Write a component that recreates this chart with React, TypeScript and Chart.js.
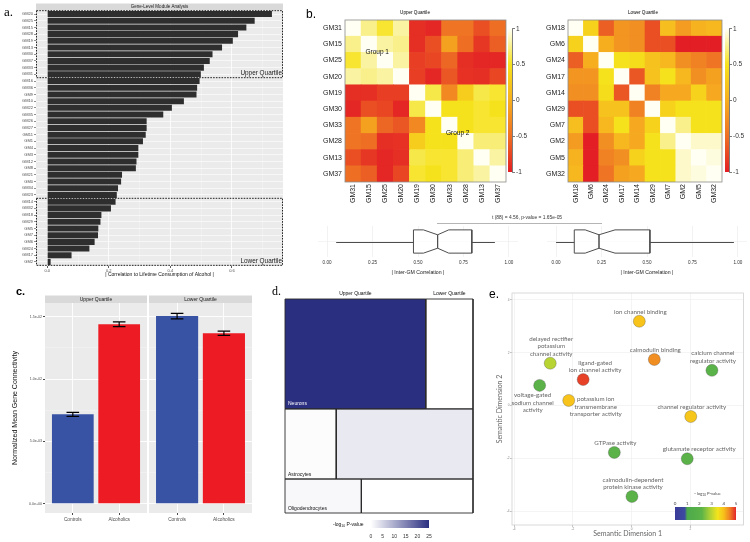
import React, { useEffect, useRef } from 'react';
import { Chart, registerables } from 'chart.js';

Chart.register(...registerables);

const SANS = "'Liberation Sans', Arial, Helvetica, sans-serif";
const SERIF = "'Liberation Serif', 'Times New Roman', serif";
const GILL = "Lato, 'Open Sans', sans-serif";
Chart.defaults.font.family = SANS;

// ---------------- a. Gene-level module analysis ----------------
const moduleLabels = [
  'GM20', 'GM25', 'GM15', 'GM28', 'GM19', 'GM13', 'GM30', 'GM37', 'GM33', 'GM31',
  'GM16', 'GM36', 'GM9', 'GM10', 'GM22', 'GM35', 'GM26', 'GM27', 'GM11', 'GM1',
  'GM4', 'GM3', 'GM12', 'GM8', 'GM21', 'GM0', 'GM34', 'GM23',
  'GM14', 'GM32', 'GM18', 'GM29', 'GM5', 'GM7', 'GM6', 'GM24', 'GM17', 'GM2',
];
const moduleCorr = [
  0.73, 0.674, 0.647, 0.62, 0.603, 0.568, 0.537, 0.528, 0.509, 0.499,
  0.495, 0.487, 0.485, 0.444, 0.405, 0.377, 0.323, 0.323, 0.32, 0.311,
  0.296, 0.296, 0.29, 0.288, 0.243, 0.24, 0.23, 0.226,
  0.222, 0.207, 0.176, 0.173, 0.166, 0.165, 0.154, 0.137, 0.079, 0.011,
];
const corrTicks = [0, 0.2, 0.4, 0.6];
const corrTickLabels = ['0.0', '0.2', '0.4', '0.6'];
const corrMinorTicks = [0.1, 0.3, 0.5, 0.7];
const upperQuartileSize = 10;
const lowerQuartileSize = 10;

// ---------------- b. Inter-module correlation heatmaps ----------------
const upperModules = ['GM31', 'GM15', 'GM25', 'GM20', 'GM19', 'GM30', 'GM33', 'GM28', 'GM13', 'GM37'];
const upperCorr = [
  [1, 0.75, 0.55, 0.8, -0.9, -0.95, -0.45, -0.45, -0.7, -0.5],
  [0.75, 1, 0.8, 0.75, -0.9, -0.7, -0.1, -0.5, -0.85, -0.6],
  [0.55, 0.8, 1, 0.8, -0.8, -0.75, -0.55, -0.9, -0.95, -0.95],
  [0.8, 0.75, 0.8, 1, -0.8, -0.95, -0.65, -0.88, -0.9, -0.75],
  [-0.9, -0.9, -0.8, -0.8, 1, 0.6, -0.3, 0.3, 0.6, 0.55],
  [-0.95, -0.7, -0.75, -0.95, 0.6, 1, 0.5, 0.5, 0.55, 0.5],
  [-0.45, -0.1, -0.55, -0.65, -0.3, 0.5, 1, 0.5, 0.55, 0.55],
  [-0.45, -0.5, -0.9, -0.88, 0.3, 0.5, 0.5, 1, 0.7, 0.7],
  [-0.7, -0.85, -0.95, -0.9, 0.6, 0.55, 0.55, 0.7, 1, 0.8],
  [-0.5, -0.6, -0.95, -0.75, 0.55, 0.5, 0.55, 0.7, 0.8, 1],
];
const upperGroupLabels = ['Group 1', 'Group 2'];
const upperGroupFrom = [0, 4];
const upperGroupTo = [3, 9];

const lowerModules = ['GM18', 'GM6', 'GM24', 'GM17', 'GM14', 'GM29', 'GM7', 'GM2', 'GM5', 'GM32'];
const lowerCorr = [
  [1, 0.35, -0.6, -0.2, -0.25, -0.7, 0.15, -0.15, 0.05, 0.1],
  [0.35, 1, 0, -0.2, -0.25, -0.7, -0.7, -1, -1, -1],
  [-0.6, 0, 1, 0.5, 0.45, 0.2, 0.1, -0.25, -0.35, -0.45],
  [-0.2, -0.2, 0.5, 1, -0.65, 0.2, 0.5, 0.1, -0.25, -0.1],
  [-0.25, -0.25, 0.45, -0.65, 1, -0.35, -0.05, -0.05, 0.35, -0.05],
  [-0.7, -0.7, 0.2, 0.2, -0.35, 1, 0.35, 0.5, 0.5, 0.5],
  [0.15, -0.7, 0.1, 0.5, -0.05, 0.35, 1, 0.75, 0.5, 0.5],
  [-0.15, -1, -0.25, 0.1, -0.05, 0.5, 0.75, 1, 0.9, 0.9],
  [0.05, -1, -0.35, -0.25, 0.35, 0.5, 0.5, 0.9, 1, 0.95],
  [0.1, -1, -0.45, -0.1, -0.05, 0.5, 0.5, 0.9, 0.95, 1],
];
const colorbarTicks = [-1, -0.5, 0, 0.5, 1];
const colorbarTickLabels = ['-1', '-0.5', '0', '0.5', '1'];
const corrStops: [number, string][] = [
  [-1, '#E31E24'], [-0.5, '#EE6F24'], [0, '#F6AE1F'], [0.5, '#F6E21C'], [0.75, '#F9F08C'], [1, '#FFFFF4'],
];

// box plots of |inter-GM correlation|
const boxWhiskerLow = [0.05, 0.0];
const boxQ1 = [0.475, 0.1];
const boxNotchLow = [0.53, 0.16];
const boxMedian = [0.608, 0.236];
const boxNotchHigh = [0.669, 0.324];
const boxQ3 = [0.796, 0.516];
const boxWhiskerHigh = [0.923, 0.978];
const boxTicks = [0, 0.25, 0.5, 0.75, 1];
const boxTickLabels = ['0.00', '0.25', '0.50', '0.75', '1.00'];

// ---------------- c. Normalized mean gene connectivity ----------------
const connGroups = ['Controls', 'Alcoholics'];
const connColors = ['#3953A4', '#ED1C24'];
const connUpper = [0.00717, 0.01439];
const connUpperErr = [0.00016, 0.00019];
const connLower = [0.01505, 0.01367];
const connLowerErr = [0.00022, 0.00017];
const connTicks = [0, 0.005, 0.01, 0.015];
const connTickLabels = ['0.0e+00', '5.0e-03', '1.0e-02', '1.5e-02'];
const connMinorTicks = [0.0025, 0.0075, 0.0125];
const quartileNames = ['Upper Quartile', 'Lower Quartile'];

// ---------------- d. Cell-type enrichment treemap ----------------
const cellTypes = ['Neurons', 'Astrocytes', 'Oligodendrocytes'];
const cellUpperGenes = [155, 36, 26];
const cellLowerGenes = [52, 96, 38];
const cellUpperLogP = [25, 0.4, 0.8];
const cellLowerLogP = [0, 2.6, 0];
const treemapTicks = [0, 5, 10, 15, 20, 25];
const treemapStops: [number, string][] = [[0, '#FFFFFF'], [25, '#2B2F80']];

// ---------------- e. GO terms semantic space ----------------
const goTermLines = [
  ['ion channel binding'],
  ['delayed rectifier', 'potassium', 'channel activity'],
  ['calmodulin binding'],
  ['calcium channel', 'regulator activity'],
  ['ligand-gated', 'ion channel activity'],
  ['voltage-gated', 'sodium channel', 'activity'],
  ['potassium ion', 'transmembrane', 'transporter activity'],
  ['channel regulator activity'],
  ['GTPase activity'],
  ['glutamate receptor activity'],
  ['calmodulin-dependent', 'protein kinase activity'],
];
const goDim1 = [0.26, -2.77, 0.77, 2.73, -1.65, -3.13, -2.14, 2.01, -0.59, 1.89, 0.01];
const goDim2 = [3.19, 1.6, 1.74, 1.33, 0.98, 0.76, 0.19, -0.42, -1.78, -2.02, -3.45];
const goLogP = [3.95, 2.95, 4.38, 2.05, 4.85, 2.0, 3.95, 3.9, 2.0, 2.0, 2.0];
const goLabelPlacement = ['above', 'above', 'above', 'above', 'aboveRight', 'belowLeft', 'right', 'above', 'above', 'aboveRight', 'above'];
const goTicksX = [-4, -2, 0, 2];
const goTicksY = [-4, -2, 0, 2, 4];
const pLegendTicks = [0, 1, 2, 3, 4, 5];
const pValueStops: [number, string][] = [
  [0, '#3A3B98'], [0.8, '#3D4AA0'], [1.0, '#4DAA4B'], [2.2, '#5CB447'], [2.9, '#B2D235'],
  [3.5, '#F3E41C'], [4.0, '#F8BF1A'], [4.5, '#EF7F24'], [5, '#E3262A'],
];

// ---------------- helpers ----------------
const hexToRgb = (h: string) => {
  const n = parseInt(h.slice(1), 16);
  return [(n >> 16) & 255, (n >> 8) & 255, n & 255];
};
function colorAt(stops: [number, string][], v: number): string {
  if (v <= stops[0][0]) return stops[0][1];
  for (let i = 1; i < stops.length; i++) {
    const [v1, c1] = stops[i];
    const [v0, c0] = stops[i - 1];
    if (v <= v1) {
      const t = (v - v0) / (v1 - v0);
      const a = hexToRgb(c0);
      const b = hexToRgb(c1);
      return `rgb(${a.map((x, k) => Math.round(x + (b[k] - x) * t)).join(',')})`;
    }
  }
  return stops[stops.length - 1][1];
}
const noPlugins = { legend: { display: false }, tooltip: { enabled: false } };
const base = { responsive: false, maintainAspectRatio: false, animation: false as const, events: [] as any[] };

// ---------------- a ----------------
function panelAConfig() {
  const n = moduleLabels.length;
  const plugin = {
    id: 'panelA',
    beforeDraw(chart: any) {
      const { ctx, chartArea: a } = chart;
      ctx.save();
      ctx.fillStyle = '#EBEBEB';
      ctx.fillRect(a.left, a.top, a.right - a.left, a.bottom - a.top);
      ctx.fillStyle = '#D9D9D9';
      ctx.fillRect(a.left, a.top - 6.5, a.right - a.left, 6.5);
      ctx.fillStyle = '#1A1A1A';
      ctx.font = `4.5px ${SANS}`;
      ctx.textAlign = 'center';
      ctx.textBaseline = 'middle';
      ctx.fillText('Gene-Level Module Analysis', (a.left + a.right) / 2, a.top - 3.2);
      ctx.restore();
    },
    afterDatasetsDraw(chart: any) {
      const { ctx, chartArea: a, scales } = chart;
      const y = scales.y;
      const boxes = [
        { from: 0.5, to: upperQuartileSize + 0.5, text: 'Upper Quartile' },
        { from: n - lowerQuartileSize + 0.5, to: n + 0.5, text: 'Lower Quartile' },
      ];
      ctx.save();
      ctx.strokeStyle = '#222';
      ctx.lineWidth = 1;
      ctx.setLineDash([1.6, 1.2]);
      boxes.forEach((b) => {
        const y0 = y.getPixelForValue(b.from);
        const y1 = y.getPixelForValue(b.to);
        ctx.strokeRect(a.left + 0.5, y0, a.right - a.left - 1, y1 - y0);
      });
      ctx.setLineDash([]);
      ctx.fillStyle = '#1A1A1A';
      ctx.font = `6.4px ${SANS}`;
      ctx.textAlign = 'right';
      ctx.textBaseline = 'alphabetic';
      boxes.forEach((b) => {
        ctx.fillText(b.text, a.right - 1, y.getPixelForValue(b.to) - 2.3);
      });
      ctx.restore();
    },
  };
  const isMajor = (c: any) => corrTicks.includes(c.tick?.value);
  return {
    type: 'bar',
    data: {
      datasets: [{
        data: moduleCorr.map((v, i) => ({ x: v, y: i + 1 })),
        backgroundColor: '#2E2E2E', borderWidth: 0, categoryPercentage: 1, barPercentage: 0.9,
      }],
    },
    options: {
      ...base,
      indexAxis: 'y',
      layout: { padding: { left: 0, top: 10, right: 7, bottom: 4 } },
      plugins: noPlugins,
      scales: {
        x: {
          type: 'linear', min: -0.0365, max: 0.766, offset: false,
          afterBuildTicks: (s: any) => {
            s.ticks = [...corrTicks, ...corrMinorTicks].sort((p, q) => p - q).map((v) => ({ value: v }));
          },
          ticks: {
            autoSkip: false, maxRotation: 0, font: { size: 4 }, color: '#4D4D4D', padding: 0.5,
            callback: (v: number) => { const k = corrTicks.indexOf(v); return k >= 0 ? corrTickLabels[k] : ''; },
          },
          grid: {
            offset: false,
            color: (c: any) => (isMajor(c) ? '#FFFFFF' : 'rgba(255,255,255,0.55)'),
            lineWidth: (c: any) => (isMajor(c) ? 0.8 : 0.45),
            tickLength: 2,
            tickColor: (c: any) => (isMajor(c) ? '#333333' : 'rgba(0,0,0,0)'),
          },
          border: { display: false },
          title: { display: true, text: '| Correlation to Lifetime Consumption of Alcohol |', font: { size: 5 }, color: '#111', padding: { top: 0, bottom: 0 } },
          afterFit: (s: any) => { s.height = 12; },
        },
        y: {
          type: 'linear', reverse: true, min: 0.4, max: n + 0.6, offset: false,
          afterBuildTicks: (s: any) => { s.ticks = moduleLabels.map((_, i) => ({ value: i + 1 })); },
          ticks: { autoSkip: false, font: { size: 4 }, color: '#4D4D4D', padding: 1, callback: (v: number) => moduleLabels[Math.round(v) - 1] },
          grid: { offset: false, color: '#FFFFFF', lineWidth: 0.6, tickLength: 2, tickColor: '#444' },
          border: { display: false },
          afterFit: (s: any) => { s.width = 36; },
        },
      },
    },
    plugins: [plugin],
  };
}

// ---------------- b ----------------
function heatmapConfig(rows: string[], matrix: number[][], yWidth: number, padRight: number, groups: { label: string; from: number; to: number }[]) {
  const n = rows.length;
  const datasets: any[] = [];
  for (let r = n - 1; r >= 0; r--) {
    datasets.push({
      data: rows.map(() => 1),
      backgroundColor: matrix[r].map((v) => colorAt(corrStops, v)),
      borderWidth: 0, barPercentage: 1, categoryPercentage: 1,
    });
  }
  const plugin = {
    id: 'hm',
    afterDatasetsDraw(chart: any) {
      const { ctx, chartArea: a, scales } = chart;
      ctx.save();
      ctx.strokeStyle = '#8C8C8C';
      ctx.lineWidth = 0.8;
      ctx.strokeRect(a.left, a.top, a.right - a.left, a.bottom - a.top);
      ctx.fillStyle = '#111';
      ctx.font = `6.5px ${SANS}`;
      ctx.textAlign = 'center';
      ctx.textBaseline = 'middle';
      groups.forEach((g) => {
        const c = (g.from + g.to) / 2;
        ctx.fillText(g.label, scales.x.getPixelForValue(c), scales.y.getPixelForValue(n - c - 0.5));
      });
      ctx.restore();
    },
  };
  return {
    type: 'bar',
    data: { labels: rows, datasets },
    options: {
      ...base,
      layout: { padding: { left: 0, top: 20, right: padRight, bottom: 0 } },
      plugins: noPlugins,
      scales: {
        x: {
          stacked: true, grid: { display: false, drawTicks: false }, border: { display: false },
          ticks: { autoSkip: false, minRotation: 90, maxRotation: 90, font: { size: 7 }, color: '#222', padding: 2 },
          afterFit: (s: any) => { s.height = 28; },
        },
        y: {
          stacked: true, min: 0, max: n, grid: { display: false, drawTicks: false }, border: { display: false },
          afterBuildTicks: (s: any) => { s.ticks = rows.map((_, i) => ({ value: n - 0.5 - i })); },
          ticks: { autoSkip: false, font: { size: 7 }, color: '#222', padding: 3, callback: (v: number) => rows[Math.round(n - 0.5 - v)] },
          afterFit: (s: any) => { s.width = yWidth; },
        },
      },
    },
    plugins: [plugin],
  };
}

function colorbarConfig() {
  return {
    type: 'bar',
    data: {
      labels: ['r'],
      datasets: [{
        data: [[colorbarTicks[0], colorbarTicks[colorbarTicks.length - 1]]],
        backgroundColor: (c: any) => {
          const { chart } = c;
          const a = chart.chartArea;
          if (!a) return 'rgba(0,0,0,0)';
          const g = chart.ctx.createLinearGradient(0, a.bottom, 0, a.top);
          corrStops.forEach(([v, col]) => g.addColorStop((v + 1) / 2, col));
          return g;
        },
        borderWidth: 0, barPercentage: 1, categoryPercentage: 1,
      }],
    },
    options: {
      ...base,
      layout: { padding: { left: 3, top: 4, right: 5, bottom: 6 } },
      plugins: noPlugins,
      scales: {
        x: { display: false },
        y: {
          position: 'right', min: -1, max: 1,
          afterBuildTicks: (s: any) => { s.ticks = colorbarTicks.map((v) => ({ value: v })); },
          ticks: { font: { size: 6.5 }, color: '#333', padding: 1, callback: (_v: number, i: number) => colorbarTickLabels[i] },
          grid: { drawOnChartArea: false, tickLength: 3, tickColor: '#444', lineWidth: 0.7 },
          border: { display: true, color: '#444', width: 0.7 },
          afterFit: (s: any) => { s.width = 23; },
        },
      },
    },
  };
}

function boxConfig(i: number) {
  const h = 0.45;
  const hn = 0.26;
  const c = 1;
  const wLo = boxWhiskerLow[i];
  const wHi = boxWhiskerHigh[i];
  const q1 = boxQ1[i];
  const q3 = boxQ3[i];
  const m = boxMedian[i];
  const nl = boxNotchLow[i];
  const nh = boxNotchHigh[i];
  const outline = [
    { x: q1, y: c + h }, { x: nl, y: c + h }, { x: m, y: c + hn }, { x: nh, y: c + h }, { x: q3, y: c + h },
    { x: q3, y: c - h }, { x: nh, y: c - h }, { x: m, y: c - hn }, { x: m, y: c + hn }, { x: m, y: c - hn },
    { x: nl, y: c - h }, { x: q1, y: c - h }, { x: q1, y: c + h },
  ];
  const topEdge = [
    { x: q3, y: c + h }, { x: nh, y: c + h }, { x: m, y: c + hn }, { x: nl, y: c + h }, { x: q1, y: c + h },
  ];
  const bottomEdge = topEdge.map((p) => ({ x: p.x, y: 2 * c - p.y }));
  const whiskerPlugin = {
    id: 'whisk',
    afterDatasetsDraw(chart: any) {
      const { ctx, scales } = chart;
      const yy = Math.round(scales.y.getPixelForValue(c)) + 0.5;
      ctx.save();
      ctx.strokeStyle = '#4D4D4D';
      ctx.lineWidth = 1;
      ctx.beginPath();
      ctx.moveTo(scales.x.getPixelForValue(wLo), yy);
      ctx.lineTo(scales.x.getPixelForValue(q1), yy);
      ctx.moveTo(scales.x.getPixelForValue(q3), yy);
      ctx.lineTo(scales.x.getPixelForValue(wHi), yy);
      ctx.stroke();
      ctx.restore();
    },
  };
  return {
    type: 'line',
    data: {
      datasets: [
        {
          data: outline, borderColor: '#4D4D4D', borderWidth: 1, pointRadius: 0, fill: false, tension: 0,
          borderJoinStyle: 'bevel', order: 0, clip: false,
        },
        { data: topEdge, fill: { value: c }, backgroundColor: '#FFFFFF', borderWidth: 0, pointRadius: 0, tension: 0, order: 1 },
        { data: bottomEdge, fill: { value: c }, backgroundColor: '#FFFFFF', borderWidth: 0, pointRadius: 0, tension: 0, order: 1 },
      ],
    },
    options: {
      ...base,
      layout: { padding: { left: 18, top: 11, right: 7, bottom: 4 } },
      plugins: noPlugins,
      scales: {
        x: {
          type: 'linear', min: -0.05, max: 1.05,
          afterBuildTicks: (s: any) => { s.ticks = boxTicks.map((v) => ({ value: v })); },
          ticks: { font: { size: 4.6 }, color: '#333', padding: 3, maxRotation: 0, callback: (_v: number, k: number) => boxTickLabels[k] },
          grid: { color: '#EAEAEA', lineWidth: 0.6, drawTicks: false },
          border: { display: false },
          title: { display: true, text: '| Inter-GM Correlation |', font: { size: 5.2 }, color: '#222', padding: { top: 0, bottom: 0 } },
          afterFit: (s: any) => { s.height = 19; },
        },
        y: {
          type: 'linear', min: 0.4, max: 1.6,
          afterBuildTicks: (s: any) => { s.ticks = [{ value: c }]; },
          ticks: { display: false },
          grid: { color: '#EDEDED', lineWidth: 0.6, drawTicks: false },
          border: { display: false },
          afterFit: (s: any) => { s.width = 0; },
        },
      },
    },
    plugins: [whiskerPlugin],
  };
}

// ---------------- c ----------------
function connConfig(values: number[], errs: number[], strip: string, showAxis: boolean, padLeft: number, padRight: number) {
  const plugin = {
    id: 'conn',
    beforeDraw(chart: any) {
      const { ctx, chartArea: a } = chart;
      ctx.save();
      ctx.fillStyle = '#EBEBEB';
      ctx.fillRect(a.left, a.top, a.right - a.left, a.bottom - a.top);
      ctx.fillStyle = '#D9D9D9';
      ctx.fillRect(a.left, a.top - 7.5, a.right - a.left, 7.5);
      ctx.fillStyle = '#1A1A1A';
      ctx.font = `5px ${SANS}`;
      ctx.textAlign = 'center';
      ctx.textBaseline = 'middle';
      ctx.fillText(strip, (a.left + a.right) / 2, a.top - 3.7);
      ctx.restore();
    },
    afterDatasetsDraw(chart: any) {
      const { ctx, scales } = chart;
      const meta = chart.getDatasetMeta(0);
      ctx.save();
      ctx.strokeStyle = '#000';
      ctx.lineWidth = 1.2;
      meta.data.forEach((bar: any, k: number) => {
        const x = bar.x;
        const y0 = scales.y.getPixelForValue(values[k] - errs[k]);
        const y1 = scales.y.getPixelForValue(values[k] + errs[k]);
        ctx.beginPath();
        ctx.moveTo(x, y0); ctx.lineTo(x, y1);
        ctx.moveTo(x - 6.3, y0); ctx.lineTo(x + 6.3, y0);
        ctx.moveTo(x - 6.3, y1); ctx.lineTo(x + 6.3, y1);
        ctx.stroke();
      });
      ctx.restore();
    },
  };
  const isMajor = (c: any) => connTicks.includes(c.tick?.value);
  return {
    type: 'bar',
    data: {
      datasets: [{
        data: values.map((v, k) => ({ x: k + 1, y: v })),
        backgroundColor: connColors, borderWidth: 0, categoryPercentage: 1, barPercentage: 0.9,
      }],
    },
    options: {
      ...base,
      layout: { padding: { left: padLeft, top: 18, right: padRight, bottom: 15 } },
      plugins: noPlugins,
      scales: {
        x: {
          type: 'linear', min: 0.4, max: 2.6, offset: false,
          afterBuildTicks: (s: any) => { s.ticks = connGroups.map((_, k) => ({ value: k + 1 })); },
          ticks: { font: { size: 4.8 }, color: '#4D4D4D', padding: 1.5, maxRotation: 0, callback: (v: number) => connGroups[Math.round(v) - 1] },
          grid: { offset: false, color: '#FFFFFF', lineWidth: 0.9, tickLength: 2, tickColor: '#333' },
          border: { display: false },
          afterFit: (s: any) => { s.height = 14; },
        },
        y: {
          min: -0.00075, max: 0.0161,
          afterBuildTicks: (s: any) => { s.ticks = [...connTicks, ...connMinorTicks].sort((p, q) => p - q).map((v) => ({ value: v })); },
          ticks: {
            display: showAxis, font: { size: 3.6 }, color: '#4D4D4D', padding: 1,
            callback: (v: number) => { const k = connTicks.indexOf(v); return k >= 0 ? connTickLabels[k] : ''; },
          },
          grid: {
            color: (c: any) => (isMajor(c) ? '#FFFFFF' : 'rgba(255,255,255,0.55)'),
            lineWidth: (c: any) => (isMajor(c) ? 0.9 : 0.45),
            drawTicks: showAxis, tickLength: 2,
            tickColor: (c: any) => (isMajor(c) ? '#333' : 'rgba(0,0,0,0)'),
          },
          border: { display: false },
          title: { display: showAxis, text: 'Normalized Mean Gene Connectivity', font: { size: 7 }, color: '#111', padding: { top: 11, bottom: 0 } },
          afterFit: (s: any) => { s.width = showAxis ? 45 : 0; },
        },
      },
    },
    plugins: [plugin],
  };
}

// ---------------- d ----------------
function treemapRects() {
  const rowTotals = cellTypes.map((_, i) => cellUpperGenes[i] + cellLowerGenes[i]);
  const grand = rowTotals.reduce((p, q) => p + q, 0);
  const rects: { x0: number; x1: number; y0: number; y1: number; logp: number; label: string }[] = [];
  let y = 0;
  cellTypes.forEach((name, i) => {
    const h = rowTotals[i] / grand;
    const w = cellUpperGenes[i] / rowTotals[i];
    rects.push({ x0: 0, x1: w, y0: y, y1: y + h, logp: cellUpperLogP[i], label: name });
    rects.push({ x0: w, x1: 1, y0: y, y1: y + h, logp: cellLowerLogP[i], label: '' });
    y += h;
  });
  return rects;
}

function treemapConfig() {
  const rects = treemapRects();
  const fills = rects.map((r) => ({
    data: [{ x: r.x0, y: r.y0 }, { x: r.x1, y: r.y0 }],
    fill: { value: r.y1 }, backgroundColor: colorAt(treemapStops, r.logp),
    borderWidth: 0, pointRadius: 0, tension: 0, order: 1,
  }));
  const outlines = rects.map((r) => ({
    data: [{ x: r.x0, y: r.y0 }, { x: r.x1, y: r.y0 }, { x: r.x1, y: r.y1 }, { x: r.x0, y: r.y1 }, { x: r.x0, y: r.y0 }],
    fill: false, borderColor: '#2A2A2A', borderWidth: 0.9, pointRadius: 0, tension: 0, order: 0, clip: false,
  }));
  const plugin = {
    id: 'tm',
    afterDatasetsDraw(chart: any) {
      const { ctx, chartArea: a, scales } = chart;
      const { x, y } = scales;
      ctx.save();
      ctx.font = `5px ${SANS}`;
      ctx.textAlign = 'left';
      ctx.textBaseline = 'alphabetic';
      rects.filter((r) => r.label).forEach((r) => {
        ctx.fillStyle = r.logp > 12 ? '#FFFFFF' : '#111';
        ctx.fillText(r.label, x.getPixelForValue(r.x0) + 3, y.getPixelForValue(r.y1) - 3.5);
      });
      ctx.fillStyle = '#111';
      ctx.textAlign = 'center';
      ctx.textBaseline = 'middle';
      [0, 1].forEach((k) => {
        const r = rects[k];
        ctx.fillText(quartileNames[k], (x.getPixelForValue(r.x0) + x.getPixelForValue(r.x1)) / 2, a.top - 5);
      });
      ctx.restore();
    },
  };
  return {
    type: 'line',
    data: { datasets: [...fills, ...outlines] },
    options: {
      ...base,
      layout: { padding: { left: 23, top: 14, right: 9, bottom: 5 } },
      plugins: noPlugins,
      scales: {
        x: { type: 'linear', min: 0, max: 1, display: false },
        y: { type: 'linear', min: 0, max: 1, reverse: true, display: false },
      },
    },
    plugins: [plugin],
  };
}

function treemapLegendConfig() {
  const plugin = {
    id: 'tml',
    afterDraw(chart: any) {
      const { ctx, chartArea: a } = chart;
      const yMid = (a.top + a.bottom) / 2 + 0.5;
      let x = a.left - 38;
      ctx.save();
      ctx.fillStyle = '#111';
      ctx.textBaseline = 'middle';
      ctx.textAlign = 'left';
      ctx.font = `5px ${SANS}`;
      ctx.fillText('-log', x, yMid);
      x += ctx.measureText('-log').width;
      ctx.font = `3.5px ${SANS}`;
      ctx.fillText('10', x, yMid + 1.5);
      x += ctx.measureText('10').width;
      ctx.font = `5px ${SANS}`;
      ctx.fillText(' P-value', x, yMid);
      ctx.restore();
    },
  };
  return {
    type: 'bar',
    data: {
      labels: ['p'],
      datasets: [{
        data: [[treemapTicks[0], treemapTicks[treemapTicks.length - 1]]],
        backgroundColor: (c: any) => {
          const { chart } = c;
          const a = chart.chartArea;
          if (!a) return 'rgba(0,0,0,0)';
          const g = chart.ctx.createLinearGradient(a.left, 0, a.right, 0);
          g.addColorStop(0, treemapStops[0][1]);
          g.addColorStop(1, treemapStops[1][1]);
          return g;
        },
        borderWidth: 0, barPercentage: 1, categoryPercentage: 1,
      }],
    },
    options: {
      ...base,
      indexAxis: 'y',
      layout: { padding: { left: 41, top: 6, right: 11, bottom: 2 } },
      plugins: noPlugins,
      scales: {
        y: { display: false },
        x: {
          min: 0, max: 25,
          afterBuildTicks: (s: any) => { s.ticks = treemapTicks.map((v) => ({ value: v })); },
          ticks: { font: { size: 5 }, color: '#333', padding: 6, maxRotation: 0 },
          grid: { display: false, drawTicks: false },
          border: { display: false },
          afterFit: (s: any) => { s.height = 12; },
        },
      },
    },
    plugins: [plugin],
  };
}

// ---------------- e ----------------
function goConfig() {
  const place: Record<string, { dx: number; dy: number; dir: number }> = {
    above: { dx: 1, dy: -9.6, dir: -1 },
    aboveRight: { dx: 12, dy: -9.3, dir: -1 },
    right: { dx: 27, dy: -1, dir: 1 },
    belowLeft: { dx: -7, dy: 10, dir: 1 },
  };
  const plugin = {
    id: 'go',
    afterDatasetsDraw(chart: any) {
      const { ctx, chartArea: a } = chart;
      const meta = chart.getDatasetMeta(0);
      ctx.save();
      ctx.strokeStyle = '#D0D0D0';
      ctx.lineWidth = 0.8;
      ctx.strokeRect(a.left, a.top, a.right - a.left, a.bottom - a.top);
      ctx.font = `6.2px ${GILL}`;
      ctx.fillStyle = '#666';
      ctx.textAlign = 'center';
      ctx.textBaseline = 'middle';
      const L = 7.3;
      meta.data.forEach((pt: any, i: number) => {
        const lines = goTermLines[i];
        const p = place[goLabelPlacement[i]];
        lines.forEach((ln, k) => {
          const yy = p.dir < 0 ? pt.y + p.dy - (lines.length - 1 - k) * L : pt.y + p.dy + k * L;
          ctx.fillText(ln, pt.x + p.dx, yy);
        });
      });
      ctx.restore();
    },
  };
  return {
    type: 'scatter',
    data: {
      datasets: [{
        data: goDim1.map((x, i) => ({ x, y: goDim2[i] })),
        pointRadius: 6,
        pointBackgroundColor: goLogP.map((v) => colorAt(pValueStops, v)),
        pointBorderColor: 'rgba(80,80,80,0.55)',
        pointBorderWidth: 0.6,
        clip: false,
      }],
    },
    options: {
      ...base,
      layout: { padding: { left: 0, top: 8, right: 4, bottom: 3 } },
      plugins: noPlugins,
      scales: {
        x: {
          type: 'linear', min: -4.07, max: 3.8,
          afterBuildTicks: (s: any) => { s.ticks = goTicksX.map((v) => ({ value: v })); },
          ticks: { font: { size: 3.2 }, color: '#888', padding: 0.5, maxRotation: 0 },
          grid: { color: '#EDEDED', lineWidth: 0.6, tickLength: 2, tickColor: '#999' },
          border: { display: false },
          title: { display: true, text: 'Semantic Dimension 1', font: { size: 7, family: GILL }, color: '#666', padding: { top: 0, bottom: 1 } },
          afterFit: (s: any) => { s.height = 14; },
        },
        y: {
          type: 'linear', min: -4.53, max: 4.26,
          afterBuildTicks: (s: any) => { s.ticks = goTicksY.map((v) => ({ value: v })); },
          ticks: { font: { size: 3.2 }, color: '#888', padding: 0.5 },
          grid: { color: '#EDEDED', lineWidth: 0.6, tickLength: 2, tickColor: '#999' },
          border: { display: false },
          title: { display: true, text: 'Semantic Dimension 2', font: { size: 7, family: GILL }, color: '#666', padding: { top: 5.5, bottom: 0 } },
          afterFit: (s: any) => { s.width = 22; },
        },
      },
    },
    plugins: [plugin],
  };
}

function goLegendConfig() {
  const plugin = {
    id: 'gol',
    afterDraw(chart: any) {
      const { ctx, chartArea: a } = chart;
      ctx.save();
      ctx.fillStyle = '#444';
      ctx.textBaseline = 'middle';
      ctx.textAlign = 'left';
      const parts: [string, number, number][] = [['- log', 4.2, 0], ['10', 3, 1.2], [' P-value', 4.2, 0]];
      let w = 0;
      parts.forEach(([t, s]) => { ctx.font = `${s}px ${GILL}`; w += ctx.measureText(t).width; });
      let x = (a.left + a.right) / 2 + 2 - w / 2;
      const y = a.top - 13;
      parts.forEach(([t, s, dy]) => {
        ctx.font = `${s}px ${GILL}`;
        ctx.fillText(t, x, y + dy);
        x += ctx.measureText(t).width;
      });
      ctx.restore();
    },
  };
  return {
    type: 'bar',
    data: {
      labels: ['p'],
      datasets: [{
        data: [[pLegendTicks[0], pLegendTicks[pLegendTicks.length - 1]]],
        backgroundColor: (c: any) => {
          const { chart } = c;
          const a = chart.chartArea;
          if (!a) return 'rgba(0,0,0,0)';
          const g = chart.ctx.createLinearGradient(a.left, 0, a.right, 0);
          pValueStops.forEach(([v, col]) => g.addColorStop(v / 5, col));
          return g;
        },
        borderWidth: 0, barPercentage: 1, categoryPercentage: 1,
      }],
    },
    options: {
      ...base,
      indexAxis: 'y',
      layout: { padding: { left: 10, top: 9, right: 14, bottom: 4 } },
      plugins: noPlugins,
      scales: {
        y: { display: false },
        x: {
          position: 'top', min: 0, max: 5,
          afterBuildTicks: (s: any) => { s.ticks = pLegendTicks.map((v) => ({ value: v })); },
          ticks: { font: { size: 4.5, family: GILL }, color: '#444', padding: 1, maxRotation: 0 },
          grid: { display: false, drawTicks: false },
          border: { display: false },
          afterFit: (s: any) => { s.height = 10; },
        },
      },
    },
    plugins: [plugin],
  };
}

// ---------------- layout ----------------
type Spec = { key: string; left: number; top: number; width: number; height: number; make: () => any };
const specs: Spec[] = [
  { key: 'a', left: 0, top: 0, width: 290, height: 282, make: panelAConfig },
  {
    key: 'bU', left: 300, top: 0, width: 215, height: 210,
    make: () => heatmapConfig(upperModules, upperCorr, 45, 9,
      upperGroupLabels.map((label, k) => ({ label, from: upperGroupFrom[k], to: upperGroupTo[k] }))),
  },
  { key: 'bUc', left: 505, top: 24, width: 35, height: 154, make: colorbarConfig },
  { key: 'bL', left: 522, top: 0, width: 215, height: 210, make: () => heatmapConfig(lowerModules, lowerCorr, 46, 15, []) },
  { key: 'bLc', left: 722, top: 24, width: 35, height: 154, make: colorbarConfig },
  { key: 'box0', left: 300, top: 215, width: 225, height: 65, make: () => boxConfig(0) },
  { key: 'box1', left: 529, top: 215, width: 225, height: 65, make: () => boxConfig(1) },
  { key: 'c1', left: 0, top: 285, width: 150, height: 257, make: () => connConfig(connUpper, connUpperErr, quartileNames[0], true, 0, 3) },
  { key: 'c2', left: 148, top: 285, width: 110, height: 257, make: () => connConfig(connLower, connLowerErr, quartileNames[1], false, 1, 6) },
  { key: 'd', left: 262, top: 285, width: 220, height: 233, make: treemapConfig },
  { key: 'dl', left: 330, top: 514, width: 110, height: 28, make: treemapLegendConfig },
  { key: 'e', left: 490, top: 285, width: 260, height: 257, make: goConfig },
  { key: 'el', left: 665, top: 488, width: 85, height: 36, make: goLegendConfig },
];

function Label(props: { x: number; y: number; size: number; text: string; family?: string; weight?: string; color?: string; center?: boolean }) {
  const { x, y, size, text, family = SANS, weight = 'normal', color = '#000', center = false } = props;
  return (
    <div
      style={{
        position: 'absolute', left: x, top: y, fontSize: size, fontFamily: family, fontWeight: weight as any,
        color, lineHeight: 1, whiteSpace: 'nowrap', transform: center ? 'translate(-50%, -50%)' : undefined,
      }}
    >
      {text}
    </div>
  );
}

export default function App() {
  const refs = useRef<(HTMLCanvasElement | null)[]>([]);
  useEffect(() => {
    const charts = specs.map((s, i) => new Chart(refs.current[i] as HTMLCanvasElement, s.make() as any));
    return () => charts.forEach((c) => c.destroy());
  }, []);
  return (
    <div style={{ position: 'absolute', left: 0, top: 0, width: 750, height: 542, background: '#FFFFFF', overflow: 'hidden' }}>
      {specs.map((s, i) => (
        <canvas
          key={s.key}
          ref={(el) => { refs.current[i] = el; }}
          width={s.width}
          height={s.height}
          style={{ position: 'absolute', left: s.left, top: s.top, width: s.width, height: s.height }}
        />
      ))}
      <Label x={4} y={5} size={13} text="a." family={SERIF} />
      <Label x={306} y={8} size={12} text="b." />
      <Label x={16} y={286} size={11} text="c." weight="bold" />
      <Label x={272} y={285} size={12} text="d." family={SERIF} />
      <Label x={489} y={288} size={12} text="e." />
      <Label x={415} y={13} size={4.6} text="Upper Quartile" center />
      <Label x={643} y={13} size={4.6} text="Lower Quartile" center />
      <Label x={527} y={218} size={4.9} text="t (88) = 4.56,  p-value = 1.65e-05" color="#333" center />
      <div style={{ position: 'absolute', left: 437, top: 223, width: 165, height: 0, borderTop: '0.8px solid #B5B5B5' }} />
    </div>
  );
}
